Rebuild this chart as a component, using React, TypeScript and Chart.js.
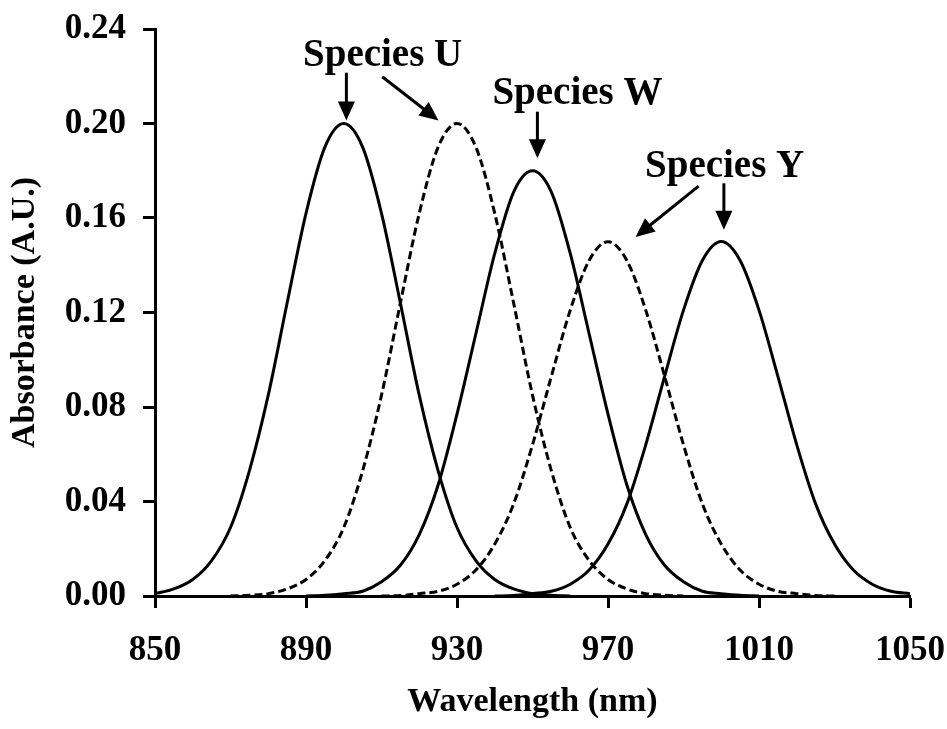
import React, { useEffect, useRef } from "react";
import { Chart, registerables } from "chart.js";

Chart.register(...registerables);

// Wavelength grid (nm)
const wavelengths = [
  850, 855, 860, 865, 870, 875, 880, 885, 890, 895,
  900, 905, 910, 915, 920, 925, 930, 935, 940, 945,
  950, 955, 960, 965, 970, 975, 980, 985, 990, 995,
  1000, 1005, 1010, 1015, 1020, 1025, 1030, 1035, 1040, 1045, 1050,
];

const _ = null;

// Species U, solid band (peak ~900 nm)
const uSolid = [
  0.001, 0.003, 0.007, 0.015, 0.029, 0.053, 0.085, 0.124, 0.162, 0.19,
  0.2, 0.19, 0.162, 0.124, 0.085, 0.053, 0.029, 0.015, 0.007, 0.003,
  0.001, 0.0003, 0, _, _, _, _, _, _, _,
  _, _, _, _, _, _, _, _, _, _, _,
];

// Species U, dashed band (peak ~930 nm)
const uDashed = [
  _, _, _, _, 0, 0.0003, 0.001, 0.003, 0.007, 0.015,
  0.029, 0.053, 0.085, 0.124, 0.162, 0.19, 0.2, 0.19, 0.162, 0.124,
  0.085, 0.053, 0.029, 0.015, 0.007, 0.003, 0.001, 0.0003, 0, _,
  _, _, _, _, _, _, _, _, _, _, _,
];

// Species W, solid band (peak ~950 nm)
const wSolid = [
  _, _, _, _, _, _, _, _, 0, 0.0003,
  0.001, 0.002, 0.006, 0.013, 0.026, 0.047, 0.077, 0.111, 0.145, 0.171,
  0.18, 0.171, 0.145, 0.111, 0.077, 0.047, 0.026, 0.013, 0.006, 0.002,
  0.001, 0.0003, 0, _, _, _, _, _, _, _, _,
];

// Species Y, dashed band (peak ~970 nm)
const yDashed = [
  _, _, _, _, _, _, _, _, _, _,
  _, _, 0, 0.0002, 0.001, 0.002, 0.005, 0.011, 0.022, 0.039,
  0.064, 0.093, 0.121, 0.142, 0.15, 0.142, 0.121, 0.093, 0.064, 0.039,
  0.022, 0.011, 0.005, 0.002, 0.001, 0.0002, 0, _, _, _, _,
];

// Species Y, solid band (peak ~1000 nm)
const ySolid = [
  _, _, _, _, _, _, _, _, _, _,
  _, _, _, _, _, _, _, _, 0, 0.0002,
  0.001, 0.002, 0.005, 0.011, 0.022, 0.039, 0.064, 0.093, 0.121, 0.142,
  0.15, 0.142, 0.121, 0.093, 0.064, 0.039, 0.022, 0.011, 0.005, 0.002, 0.001,
];

const xTicks = [850, 890, 930, 970, 1010, 1050];
const yTicks = [0, 0.04, 0.08, 0.12, 0.16, 0.2, 0.24];

// Annotation labels (data units: nm, A.U.; y = text baseline)
const labelTexts = ["Species U", "Species W", "Species Y"];
const labelX = [910.3, 961.9, 1000.9];
const labelY = [0.2244, 0.2084, 0.1773];

// Arrows (data units)
const arrowFromX = [900.7, 910.2, 951.3, 994.0, 1000.7];
const arrowFromY = [0.2215, 0.2198, 0.205, 0.1735, 0.1747];
const arrowToX = [900.7, 925.1, 951.3, 977.3, 1000.7];
const arrowToY = [0.2013, 0.2013, 0.1853, 0.152, 0.155];

const FONT = '"Liberation Serif", "Times New Roman", serif';

const toPoints = (vals: (number | null)[]) =>
  wavelengths.map((w, i) => ({ x: w, y: vals[i] }));

const annotationPlugin = {
  id: "speciesAnnotations",
  afterDatasetsDraw(chart: any) {
    const { ctx } = chart;
    const xs = chart.scales.x;
    const ys = chart.scales.y;
    ctx.save();
    ctx.fillStyle = "#000";
    ctx.strokeStyle = "#000";
    ctx.font = `bold 39px ${FONT}`;
    ctx.textAlign = "center";
    ctx.textBaseline = "alphabetic";
    labelTexts.forEach((t, i) => {
      ctx.fillText(t, xs.getPixelForValue(labelX[i]), ys.getPixelForValue(labelY[i]));
    });
    const headLen = 19;
    const headW = 8.5;
    for (let i = 0; i < arrowFromX.length; i++) {
      const x1 = xs.getPixelForValue(arrowFromX[i]);
      const y1 = ys.getPixelForValue(arrowFromY[i]);
      const x2 = xs.getPixelForValue(arrowToX[i]);
      const y2 = ys.getPixelForValue(arrowToY[i]);
      const a = Math.atan2(y2 - y1, x2 - x1);
      const c = Math.cos(a);
      const s = Math.sin(a);
      const bx = x2 - headLen * c;
      const by = y2 - headLen * s;
      ctx.lineWidth = 3;
      ctx.beginPath();
      ctx.moveTo(x1, y1);
      ctx.lineTo(bx + c * 2, by + s * 2);
      ctx.stroke();
      ctx.beginPath();
      ctx.moveTo(x2, y2);
      ctx.lineTo(bx + headW * s, by - headW * c);
      ctx.lineTo(bx - headW * s, by + headW * c);
      ctx.closePath();
      ctx.fill();
    }
    ctx.restore();
  },
};

export default function App() {
  const canvasRef = useRef<HTMLCanvasElement | null>(null);

  useEffect(() => {
    if (!canvasRef.current) return;
    const mk = (vals: (number | null)[], dashed: boolean, label: string) => ({
      label,
      data: toPoints(vals),
      borderColor: "#000",
      backgroundColor: "#000",
      borderWidth: 3,
      borderDash: dashed ? [8, 4] : [],
      pointRadius: 0,
      fill: false,
      cubicInterpolationMode: "monotone" as const,
      spanGaps: false,
    });
    const chart = new Chart(canvasRef.current, {
      type: "line",
      data: {
        datasets: [
          mk(uSolid, false, "Species U (solid)"),
          mk(uDashed, true, "Species U (dashed)"),
          mk(wSolid, false, "Species W"),
          mk(yDashed, true, "Species Y (dashed)"),
          mk(ySolid, false, "Species Y (solid)"),
        ],
      },
      options: {
        responsive: false,
        animation: false,
        layout: { padding: { top: 29, right: 37, bottom: 0, left: 0 } },
        plugins: {
          legend: { display: false },
          tooltip: { enabled: false },
          title: { display: false },
        },
        scales: {
          x: {
            type: "linear",
            min: xTicks[0],
            max: xTicks[xTicks.length - 1],
            afterFit: (scale: any) => {
              scale.height = 133;
              scale.paddingLeft = 0;
              scale.paddingRight = 0;
            },
            afterBuildTicks: (scale: any) => {
              scale.ticks = xTicks.map((v) => ({ value: v }));
            },
            border: { display: true, color: "#000", width: 3 },
            grid: {
              drawOnChartArea: false,
              drawTicks: true,
              tickLength: 12,
              tickWidth: 3,
              tickColor: "#000",
              color: "#000",
            },
            ticks: {
              color: "#000",
              padding: 22,
              maxRotation: 0,
              autoSkip: false,
              font: { family: FONT, size: 35, weight: "bold" },
              callback: (v: any) => String(v),
            },
            title: {
              display: true,
              text: "Wavelength (nm)",
              color: "#000",
              font: { family: FONT, size: 34, weight: "bold" },
              padding: { top: 0, bottom: 6 },
            },
          },
          y: {
            type: "linear",
            min: yTicks[0],
            max: yTicks[yTicks.length - 1],
            afterFit: (scale: any) => {
              scale.width = 155;
              scale.paddingTop = 0;
              scale.paddingBottom = 0;
            },
            afterBuildTicks: (scale: any) => {
              scale.ticks = yTicks.map((v) => ({ value: v }));
            },
            border: { display: true, color: "#000", width: 3 },
            grid: {
              drawOnChartArea: false,
              drawTicks: true,
              tickLength: 12,
              tickWidth: 3,
              tickColor: "#000",
              color: "#000",
            },
            ticks: {
              color: "#000",
              padding: 17,
              autoSkip: false,
              font: { family: FONT, size: 35, weight: "bold" },
              callback: (v: any) => Number(v).toFixed(2),
            },
            title: {
              display: true,
              text: "Absorbance (A.U.)",
              color: "#000",
              font: { family: FONT, size: 34, weight: "bold" },
              padding: { top: 5, bottom: 0 },
            },
          },
        },
      },
      plugins: [annotationPlugin],
    });
    return () => chart.destroy();
  }, []);

  return (
    <div style={{ position: "fixed", left: 0, top: 0, width: 947, height: 729, background: "#fff" }}>
      <canvas ref={canvasRef} width={947} height={729} style={{ display: "block", width: 947, height: 729 }} />
    </div>
  );
}
